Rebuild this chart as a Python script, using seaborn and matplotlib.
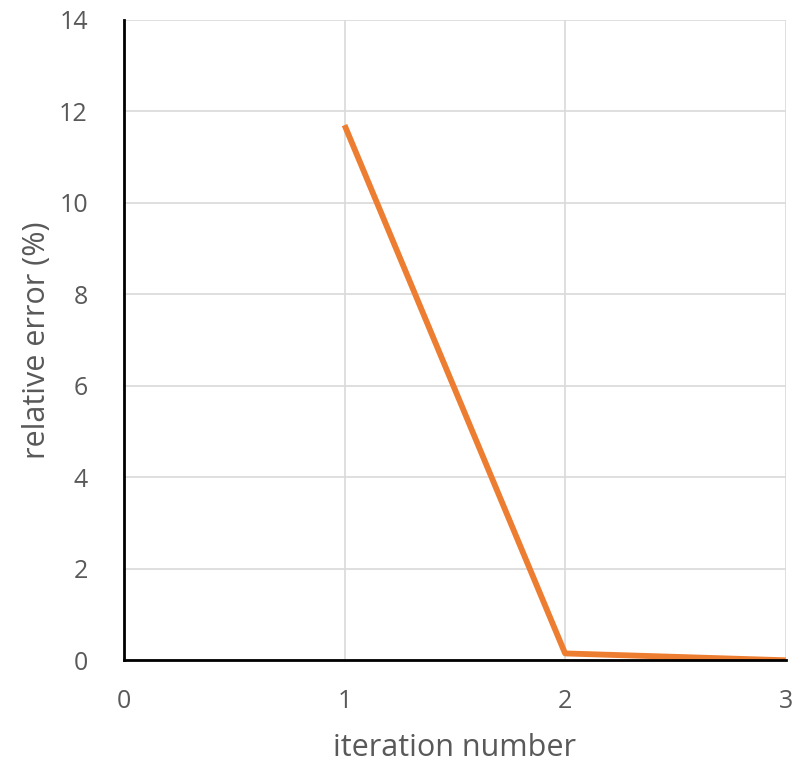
import matplotlib
matplotlib.use("Agg")
import matplotlib.pyplot as plt
import seaborn as sns
import pandas as pd

iterations = [1, 2, 3]
rel_error = [11.7, 0.15, 0.0]
x_ticks = [0, 1, 2, 3]
y_ticks = [0, 2, 4, 6, 8, 10, 12, 14]

sns.set_theme(style="white")
plt.rcParams["font.family"] = ["Open Sans", "DejaVu Sans"]

df = pd.DataFrame({"iteration": iterations, "error": rel_error})

fig = plt.figure(figsize=(8.05, 7.66), dpi=100)
ax = fig.add_axes([0.154, 0.138, 0.822, 0.836])

sns.lineplot(data=df, x="iteration", y="error", ax=ax, color="#ED7D31",
             linewidth=4.2, solid_capstyle="butt", zorder=3)

ax.set_xlim(0, 3)
ax.set_ylim(0, 14)
ax.set_xticks(x_ticks)
ax.set_yticks(y_ticks)
ax.grid(True, color="#d9d9d9", linewidth=1.2)
ax.set_axisbelow(True)

for side in ["top", "right"]:
    ax.spines[side].set_visible(False)
for side in ["left", "bottom"]:
    ax.spines[side].set_color("black")
    ax.spines[side].set_linewidth(2)
    ax.spines[side].set_zorder(4)

ax.tick_params(axis="both", which="both", length=0, labelsize=18,
               labelcolor="#595959")
ax.tick_params(axis="x", pad=21)
ax.tick_params(axis="y", pad=26)
ax.set_xlabel("iteration number", fontsize=22, color="#595959", labelpad=13)
ax.set_ylabel("relative error (%)", fontsize=22, color="#595959", labelpad=5)

fig.savefig("out.png", dpi=100)
